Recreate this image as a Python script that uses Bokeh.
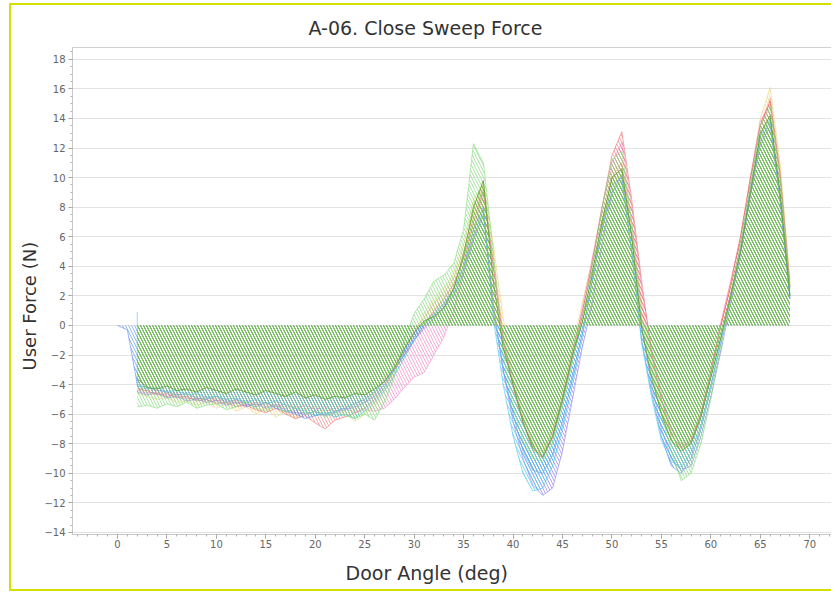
from bokeh.plotting import figure
from bokeh.models import SingleIntervalTicker, Title
from bokeh.embed import file_html
from bokeh.resources import INLINE

# ---------------- data ----------------
ANGLES = list(range(2, 69))          # door angle (deg) sample grid
BLUE_ANGLES = [0, 1] + ANGLES
CYAN_ANGLES = [2] + ANGLES

force_dark_green = [
    -3.6, -4.2, -4.3, -4.1, -4.4, -4.3, -4.5, -4.2, -4.4, -4.6, -4.3, -4.5, -4.7, -4.4,
    -4.6, -4.8, -4.5, -4.9, -4.7, -5.0, -4.8, -4.9, -4.6, -4.7, -4.3, -3.8, -2.9, -1.6,
    -0.5, 0.3, 0.6, 1.2, 2.5, 4.8, 8.0, 9.8, 3.0, -1.5, -4.0, -6.5, -8.3, -8.9, -7.5,
    -5.0, -2.0, 0.2, 3.5, 7.0, 10.0, 10.6, 6.0, -0.2, -3.5, -6.0, -7.8, -8.5, -8.0, -6.2,
    -3.5, -0.8, 2.0, 5.0, 9.0, 13.0, 14.2, 9.0, 2.0]

force_light_green = [
    -5.5, -5.4, -5.6, -5.3, -5.5, -5.2, -5.6, -5.4, -5.3, -5.7, -5.5, -5.2, -5.6, -5.8,
    -5.4, -5.9, -5.6, -6.0, -5.8, -6.2, -5.9, -6.1, -6.3, -6.0, -6.4, -5.2, -3.5, -1.0,
    0.8, 1.8, 3.0, 3.4, 4.2, 6.5, 12.3, 11.0, 5.0, -2.0, -5.5, -7.8, -9.0, -9.2, -8.0,
    -5.5, -2.5, 0.5, 4.0, 8.0, 11.2, 11.8, 7.0, 0.5, -3.0, -6.0, -8.5, -10.5, -10.0, -8.0,
    -5.0, -1.5, 2.0, 5.5, 9.5, 13.5, 14.8, 10.0, 2.5]

force_yellow = [
    -4.6, -4.8, -5.0, -4.9, -5.2, -5.1, -5.4, -5.2, -5.6, -5.3, -5.8, -5.5, -6.0, -5.6,
    -6.2, -5.8, -6.3, -5.9, -6.1, -5.7, -6.2, -5.8, -6.5, -6.0, -5.5, -4.5, -3.2, -1.8,
    -0.6, 0.8, 1.8, 2.5, 3.5, 5.5, 8.5, 9.6, 5.5, 0.5, -3.5, -6.0, -7.8, -8.5, -7.0,
    -4.5, -1.5, 1.5, 4.5, 7.5, 10.5, 11.0, 6.5, 1.0, -2.5, -5.5, -7.5, -8.2, -7.8, -6.0,
    -3.2, -0.2, 2.8, 6.0, 10.0, 14.0, 16.1, 11.0, 3.0]

force_orange = [
    -4.2, -4.5, -4.6, -4.8, -4.7, -5.0, -4.9, -5.1, -5.0, -5.3, -5.1, -5.4, -5.2, -5.5,
    -5.3, -5.6, -5.4, -5.7, -5.5, -5.8, -5.6, -5.4, -5.7, -5.2, -4.6, -3.6, -2.6, -1.5,
    -0.4, 0.5, 1.5, 2.2, 3.2, 5.0, 7.5, 9.5, 4.5, -0.5, -3.8, -6.2, -8.0, -8.6, -7.2,
    -4.8, -1.8, 1.0, 4.0, 7.0, 10.0, 11.0, 7.0, 1.5, -2.0, -5.0, -7.2, -8.0, -7.6, -5.8,
    -3.0, 0.0, 2.5, 5.5, 9.5, 13.5, 15.4, 10.5, 2.8]

force_pink = [
    -4.4, -4.6, -4.5, -4.8, -4.6, -4.9, -5.0, -4.8, -5.1, -5.0, -5.3, -5.1, -5.4, -5.2,
    -5.5, -5.3, -5.6, -5.4, -5.7, -5.5, -5.8, -5.6, -5.9, -5.7, -5.8, -5.6, -5.0, -4.2,
    -3.5, -3.2, -2.0, -0.8, 1.0, 3.5, 6.5, 9.0, 4.0, -1.0, -4.0, -6.5, -8.2, -8.8, -7.4,
    -5.0, -2.0, 1.2, 4.5, 8.0, 11.0, 12.4, 8.0, 2.5, -1.5, -4.5, -7.0, -8.2, -7.8, -6.0,
    -3.2, 0.2, 3.0, 6.0, 10.0, 13.8, 15.0, 10.0, 2.5]

force_red = [
    -4.3, -4.4, -4.7, -4.6, -4.9, -4.8, -5.1, -5.0, -5.3, -5.2, -5.5, -5.4, -5.7, -5.9,
    -5.6, -6.0, -6.3, -6.1, -6.6, -7.0, -6.4, -6.2, -5.9, -5.6, -5.0, -4.2, -3.0, -2.0,
    -1.0, 0.0, 1.0, 1.8, 2.8, 4.5, 7.0, 9.2, 4.0, -1.0, -4.2, -6.6, -8.4, -9.0, -7.6,
    -5.2, -2.2, 0.8, 4.2, 8.0, 11.5, 13.1, 8.5, 3.0, -1.8, -5.0, -7.4, -8.3, -7.9, -6.0,
    -3.2, 0.0, 2.8, 6.0, 10.0, 13.5, 15.2, 10.2, 2.6]

force_blue = [
    0.0, -0.3,
    -4.0, -4.2, -4.4, -4.5, -4.7, -4.6, -4.9, -5.0, -4.8, -5.2, -5.0, -5.3, -5.5, -5.2,
    -5.6, -5.8, -6.0, -6.3, -6.1, -6.0, -5.8, -5.6, -5.3, -5.0, -4.5, -3.8, -2.8, -1.8,
    -0.8, 0.2, 0.8, 1.5, 2.5, 4.0, 6.5, 8.0, 1.0, -3.0, -6.0, -8.5, -9.8, -10.0, -8.8,
    -6.5, -3.5, -0.5, 3.0, 6.5, 9.5, 10.0, 5.0, -1.0, -4.5, -7.5, -9.5, -10.0, -9.0, -7.0,
    -4.2, -1.2, 1.8, 5.0, 9.0, 12.5, 13.8, 8.5, 1.8]

force_cyan = [
    0.9,
    -4.1, -4.3, -4.2, -4.5, -4.4, -4.7, -4.6, -4.9, -4.8, -5.0, -4.9, -5.2, -5.0, -5.3,
    -5.1, -5.4, -5.6, -5.8, -6.1, -5.9, -6.2, -6.0, -6.3, -5.8, -5.2, -4.4, -3.4, -2.2,
    -1.0, 0.0, 0.7, 1.4, 2.2, 3.8, 6.0, 7.8, 0.5, -4.0, -7.5, -10.0, -11.2, -11.0, -9.5,
    -7.0, -4.0, -0.8, 3.0, 6.5, 9.0, 9.8, 5.0, -1.2, -4.8, -7.8, -9.2, -9.6, -8.6, -6.8,
    -4.0, -1.0, 2.0, 5.2, 9.2, 12.8, 14.0, 8.8, 2.0]

force_purple = [
    -4.5, -4.7, -4.6, -4.9, -4.8, -5.1, -5.0, -5.2, -5.1, -5.4, -5.2, -5.5, -5.3, -5.6,
    -5.4, -5.7, -5.9, -6.0, -5.8, -6.1, -5.9, -5.7, -5.5, -5.2, -4.8, -4.0, -3.0, -2.0,
    -1.0, -0.2, 0.5, 1.2, 2.0, 3.5, 5.8, 7.5, 1.5, -3.0, -6.5, -9.0, -10.8, -11.5, -11.0,
    -8.5, -5.0, -1.5, 1.5, 5.5, 9.0, 10.2, 6.0, 0.0, -4.0, -7.0, -9.0, -9.8, -9.5, -7.5,
    -4.8, -1.8, 1.5, 4.8, 8.8, 12.2, 13.5, 8.5, 1.8]

# (x, y, hatch colour, hatch alpha, hatch weight, line colour, line alpha) back to front
series = [
    (ANGLES, force_yellow, "#e6cf6e", 0.55, 1.0, "#e6cf6e", 0.5),
    (ANGLES, force_orange, "#f2a46c", 0.5, 1.0, "#f2a46c", 0.5),
    (ANGLES, force_pink, "#f27cc6", 0.65, 1.0, "#f27cc6", 0.5),
    (ANGLES, force_red, "#e85858", 0.5, 1.0, "#e85858", 0.5),
    (ANGLES, force_purple, "#8a7cf0", 0.7, 1.0, "#8a7cf0", 0.6),
    (BLUE_ANGLES, force_blue, "#5a8ee8", 0.65, 1.0, "#5a8ee8", 0.6),
    (CYAN_ANGLES, force_cyan, "#45c4ec", 0.65, 1.0, "#45c4ec", 0.6),
    (ANGLES, force_light_green, "#84dc7c", 0.7, 1.0, "#84dc7c", 0.6),
    (ANGLES, force_dark_green, "#7cc24c", 0.95, 1.1, "#5d9e2c", 0.8),
]

# ---------------- figure ----------------
p = figure(width=822, height=588, x_range=(-4.55, 72.3), y_range=(-14.14, 18.8),
           output_backend="svg", toolbar_location=None,
           min_border_left=61, min_border_right=1, min_border_top=42, min_border_bottom=59,
           background_fill_color="white", border_fill_color="white",
           margin=(3, 0, 0, 9),
           styles={"border-top": "2px solid #d4e000",
                   "border-left": "2px solid #d4e000",
                   "border-bottom": "2px solid #d4e000",
                   "border-right": "none"})

for xs, ys, hc, ha, hw, lc, la in series:
    p.varea(x=xs, y1=0, y2=ys, fill_color=None, fill_alpha=0,
            hatch_pattern="\\", hatch_color=hc, hatch_alpha=ha,
            hatch_scale=6, hatch_weight=hw)
    p.line(xs, ys, line_color=lc, line_alpha=la, line_width=1)

p.title.text = "A-06. Close Sweep Force"
p.title.align = "left"
p.title.offset = 236
p.title.text_font = "DejaVu Sans"
p.title.text_font_size = "19px"
p.title.text_font_style = "normal"
p.title.text_color = "#333333"
p.title.standoff = 18

p.xaxis.ticker = SingleIntervalTicker(interval=5, num_minor_ticks=5)
p.yaxis.ticker = SingleIntervalTicker(interval=2, num_minor_ticks=4)
for ax in (p.xaxis[0], p.yaxis[0]):
    ax.major_label_text_font = "DejaVu Sans"
    ax.major_label_text_font_size = "10px"
    ax.major_label_text_color = "#666666"
    ax.axis_line_color = "#c8c8c8"
    ax.major_tick_line_color = "#a0a0a0"
    ax.minor_tick_line_color = "#b0b0b0"
    ax.major_tick_out = 4
    ax.major_tick_in = 0
    ax.minor_tick_out = 2
    ax.minor_tick_in = 0
p.xaxis.major_label_standoff = 1
p.yaxis.major_label_standoff = 3

xlab = Title(text="Door Angle (deg)", align="left", offset=273,
             text_font="DejaVu Sans", text_font_size="19px",
             text_font_style="normal", text_color="#333333", standoff=18)
p.add_layout(xlab, "below")
ylab = Title(text="User Force (N)", align="left", offset=164,
             text_font="DejaVu Sans", text_font_size="18px",
             text_font_style="normal", text_color="#333333", standoff=4)
p.add_layout(ylab, "left")

p.xgrid.grid_line_color = None
p.ygrid.grid_line_color = "#e3e3e3"
p.ygrid.grid_line_width = 1
p.outline_line_color = "#d0d0d0"

open("out.html", "w").write(file_html(p, INLINE))
